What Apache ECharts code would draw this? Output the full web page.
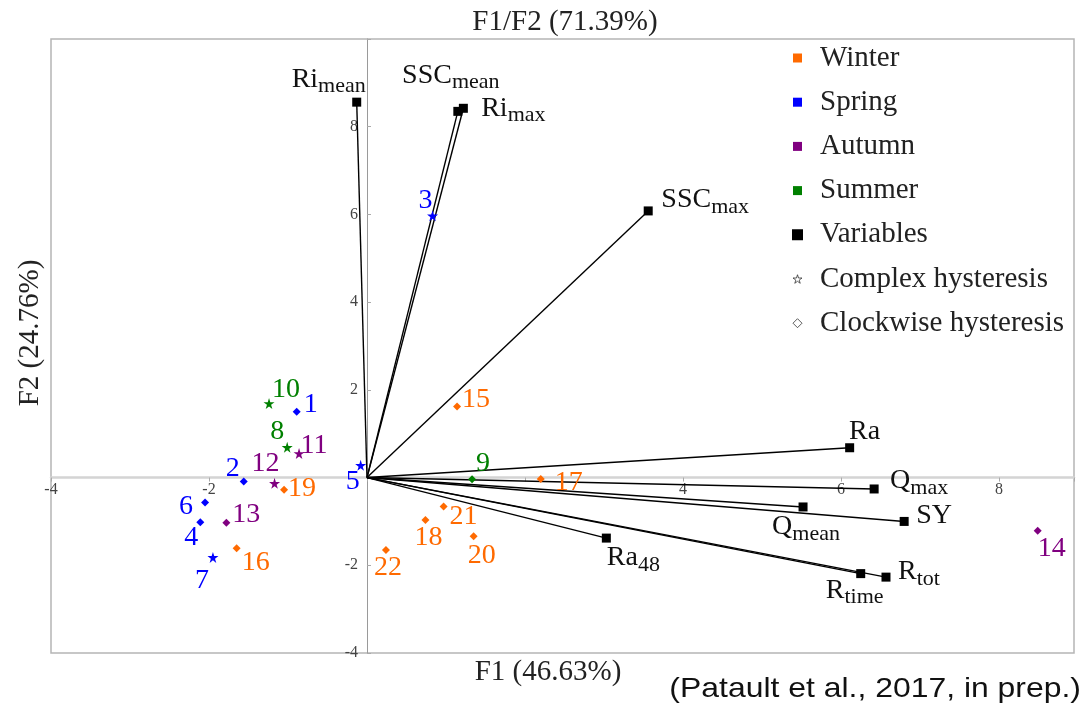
<!DOCTYPE html>
<html>
<head>
<meta charset="utf-8">
<script src="https://cdn.jsdelivr.net/npm/echarts@6/dist/echarts.min.js"></script>
<style>
html,body{margin:0;padding:0;background:#fff;}
#chart{width:1084px;height:705px;}
</style>
</head>
<body>
<div id="chart"></div>
<script>
// ---------------- DATA ----------------
const xTickLabels = [-4, -2, 4, 6, 8];
const yTickLabels = [-4, -2, 2, 4, 6, 8];

const seasons = ['Winter', 'Spring', 'Autumn', 'Summer'];

const obsId = [1, 2, 3, 4, 5, 6, 7, 8, 9, 10, 11, 12, 13, 14, 15, 16, 17, 18, 19, 20, 21, 22];
const obsSeason = ['Spring', 'Spring', 'Spring', 'Spring', 'Spring', 'Spring', 'Spring',
  'Summer', 'Summer', 'Summer', 'Autumn', 'Autumn', 'Autumn', 'Autumn',
  'Winter', 'Winter', 'Winter', 'Winter', 'Winter', 'Winter', 'Winter', 'Winter'];
const obsHysteresis = ['Clockwise', 'Clockwise', 'Complex', 'Clockwise', 'Complex', 'Clockwise', 'Complex',
  'Complex', 'Clockwise', 'Complex', 'Complex', 'Complex', 'Clockwise', 'Clockwise',
  'Clockwise', 'Clockwise', 'Clockwise', 'Clockwise', 'Clockwise', 'Clockwise', 'Clockwise', 'Clockwise'];
const obsF1 = [-0.89, -1.56, 0.83, -2.11, -0.08, -2.05, -1.95, -1.01, 1.33, -1.24, -0.86, -1.17, -1.78, 8.49,
  1.14, -1.65, 2.20, 0.74, -1.05, 1.35, 0.97, 0.24];
const obsF2 = [1.50, -0.09, 5.97, -1.02, 0.28, -0.57, -1.82, 0.69, -0.04, 1.69, 0.55, -0.13, -1.03, -1.21,
  1.62, -1.61, -0.03, -0.97, -0.28, -1.34, -0.66, -1.65];

const varMain = ['Ri', 'SSC', 'Ri', 'SSC', 'Ra', 'Q', 'Q', 'SY', 'R', 'R', 'Ra'];
const varSub = ['mean', 'mean', 'max', 'max', '', 'max', 'mean', '', 'time', 'tot', '48'];
const varF1 = [-0.13, 1.15, 1.22, 3.56, 6.11, 6.42, 5.52, 6.80, 6.25, 6.57, 3.03];
const varF2 = [8.56, 8.35, 8.42, 6.08, 0.68, -0.26, -0.67, -1.00, -2.19, -2.27, -1.38];

const xMin = -4, xMax = 8.95, yMin = -4, yMax = 10;

// ---------------- STYLE ----------------
const seasonColors = { Winter: '#ff6a00', Spring: '#0000ff', Autumn: '#800080', Summer: '#008000' };
const starPath = 'path://M50,0 L61,35 L98,35 L68,57 L79,91 L50,70 L21,91 L32,57 L2,35 L39,35 Z';
const serif = '"Liberation Serif", "DejaVu Serif", serif';
const W = 1084, H = 705;
const gridBox = { left: 51, top: 39, right: 10, bottom: 52 };
const plotW = W - gridBox.left - gridBox.right;
const plotH = H - gridBox.top - gridBox.bottom;
// shift the axes so that they run through the origin
const xAxisShift = -(plotH * (0 - yMin) / (yMax - yMin));
const yAxisShift = -(plotW * (0 - xMin) / (xMax - xMin));

// label centre offsets (px) relative to the marker
const obsLabelOffset = {
  1: [14, -7], 2: [-11, -13], 3: [-7, -15], 4: [-9, 15], 5: [-8, 16], 6: [-19, 4], 7: [-11, 23],
  8: [-10, -16], 9: [11, -16], 10: [17, -14], 11: [15, -8], 12: [-9, -20], 13: [20, -8],
  14: [14, 18], 15: [19, -7], 16: [19, 14], 17: [28, 4], 18: [3, 18], 19: [18, -1],
  20: [8, 19], 21: [20, 10], 22: [2, 18]
};
const varLabelOffset = [[-28, -23], [-7, -36], [50, 0], [57, -11], [15, -16], [45, -8],
  [3, 20], [30, -6], [-6, 17], [33, -5], [27, 20]];

// ---------------- SERIES ----------------
const series = [];

series.push({
  name: 'Variables',
  type: 'lines',
  coordinateSystem: 'cartesian2d',
  z: 1,
  silent: true,
  lineStyle: { color: '#000', width: 1.4, opacity: 1 },
  data: varF1.map((x, i) => ({ coords: [[0, 0], [x, varF2[i]]] }))
});
series.push({
  name: 'Variables',
  type: 'scatter',
  z: 3,
  symbol: 'rect',
  symbolSize: 9,
  itemStyle: { color: '#000', opacity: 1 },
  label: {
    show: true,
    position: 'inside',
    color: '#111',
    formatter: p => {
      const i = p.dataIndex;
      return '{m|' + varMain[i] + '}' + (varSub[i] ? '{s|' + varSub[i] + '}' : '');
    },
    rich: {
      m: { fontFamily: serif, fontSize: 28, color: '#111' },
      s: { fontFamily: serif, fontSize: 22, color: '#111', padding: [14, 0, 0, 0] }
    }
  },
  data: varF1.map((x, i) => ({
    value: [x, varF2[i]],
    label: { offset: varLabelOffset[i] }
  }))
});

seasons.forEach(s => {
  const data = [];
  obsId.forEach((id, i) => {
    if (obsSeason[i] !== s) return;
    const complex = obsHysteresis[i] === 'Complex';
    data.push({
      name: String(id),
      value: [obsF1[i], obsF2[i]],
      symbol: complex ? starPath : 'diamond',
      symbolSize: complex ? 11 : 8,
      label: { offset: obsLabelOffset[id] }
    });
  });
  series.push({
    name: s,
    type: 'scatter',
    z: 4,
    itemStyle: { color: seasonColors[s], opacity: 1 },
    label: {
      show: true,
      position: 'inside',
      formatter: '{b}',
      color: seasonColors[s],
      fontFamily: serif,
      fontSize: 28
    },
    data
  });
});

series.push({ name: 'Complex hysteresis', type: 'scatter', data: [] });
series.push({ name: 'Clockwise hysteresis', type: 'scatter', data: [] });

const legendOutline = { color: '#fff', borderColor: '#333', borderWidth: 1 };

const option = {
  backgroundColor: '#fff',
  animation: false,
  grid: Object.assign({}, gridBox, {
    show: true, borderColor: '#b5b5b5', borderWidth: 1.5, backgroundColor: 'transparent'
  }),
  xAxis: {
    type: 'value',
    min: xMin, max: xMax, interval: 2,
    position: 'bottom',
    offset: xAxisShift,
    axisLine: { show: true, onZero: false, lineStyle: { color: '#d4d4d4', width: 2.5 } },
    axisTick: { show: true, length: 4, lineStyle: { color: '#aaa' } },
    splitLine: { show: false },
    axisLabel: {
      color: '#444', fontFamily: serif, fontSize: 16, margin: 4,
      showMinLabel: true, showMaxLabel: true,
      formatter: v => (xTickLabels.indexOf(v) >= 0 ? String(v) : '')
    }
  },
  yAxis: {
    type: 'value',
    min: yMin, max: yMax, interval: 2,
    position: 'left',
    offset: yAxisShift,
    axisLine: { show: true, onZero: false, lineStyle: { color: '#9a9a9a', width: 1 } },
    axisTick: { show: true, length: 4, inside: true, lineStyle: { color: '#aaa' } },
    splitLine: { show: false },
    axisLabel: {
      color: '#444', fontFamily: serif, fontSize: 16, margin: 9,
      showMinLabel: true,
      formatter: v => (yTickLabels.indexOf(v) >= 0 ? String(v) : '')
    }
  },
  legend: {
    orient: 'vertical',
    left: 787, top: 38,
    itemWidth: 9, itemHeight: 9,
    itemGap: 14.2,
    selectedMode: false,
    textStyle: { fontFamily: serif, fontSize: 29, color: '#222', lineHeight: 30, padding: [0, 0, 0, 13] },
    data: [
      { name: 'Winter', icon: 'rect' },
      { name: 'Spring', icon: 'rect' },
      { name: 'Autumn', icon: 'rect' },
      { name: 'Summer', icon: 'rect' },
      { name: 'Variables', icon: 'rect', itemStyle: { color: '#000' } },
      { name: 'Complex hysteresis', icon: starPath, itemStyle: legendOutline },
      { name: 'Clockwise hysteresis', icon: 'diamond', itemStyle: legendOutline }
    ]
  },
  graphic: [
    { type: 'text', x: 565, y: 22, style: { text: 'F1/F2 (71.39%)', font: '29px ' + serif, fill: '#222', textAlign: 'center', textVerticalAlign: 'middle' } },
    { type: 'text', x: 548, y: 672, style: { text: 'F1 (46.63%)', font: '29px ' + serif, fill: '#222', textAlign: 'center', textVerticalAlign: 'middle' } },
    { type: 'text', x: 30, y: 333, rotation: Math.PI / 2, style: { text: 'F2 (24.76%)', font: '29px ' + serif, fill: '#222', textAlign: 'center', textVerticalAlign: 'middle' } },
    { type: 'text', x: 1081, y: 689, scaleX: 1.14, style: { text: '(Patault et al., 2017, in prep.)', font: '28px "Liberation Sans", Arial, sans-serif', fill: '#111', textAlign: 'right', textVerticalAlign: 'middle' } }
  ],
  series
};

const chart = echarts.init(document.getElementById('chart'), null, { renderer: 'canvas' });
chart.setOption(option);
</script>
</body>
</html>
